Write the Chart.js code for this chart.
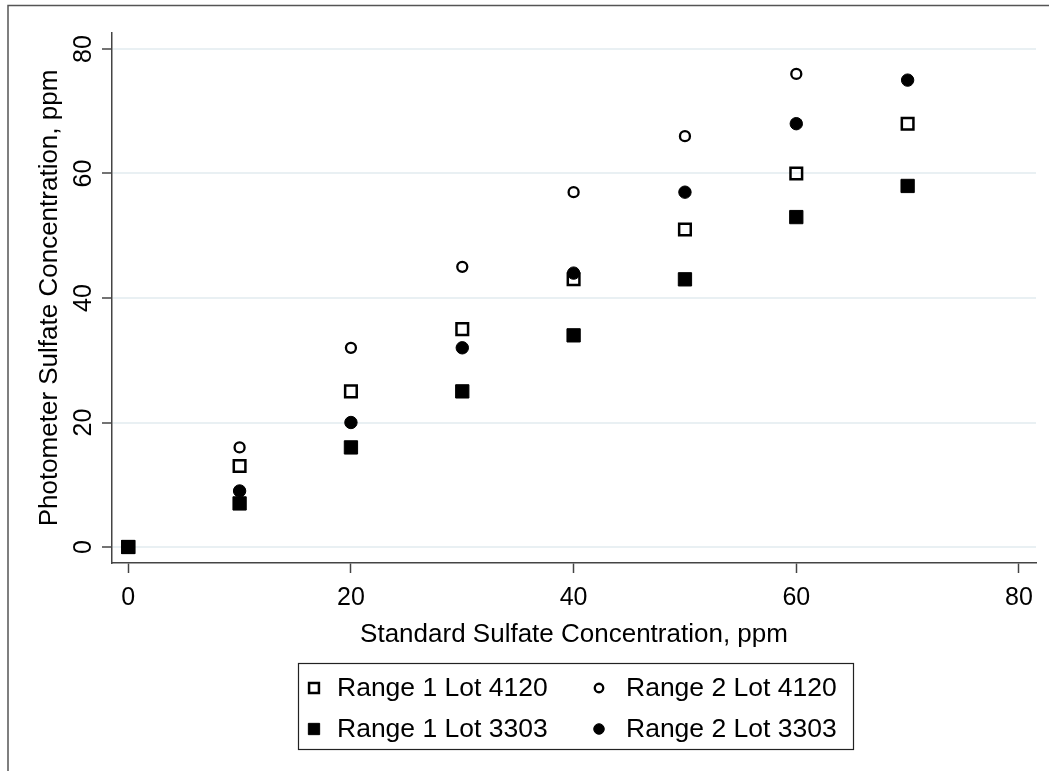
<!DOCTYPE html>
<html lang="en">

<head>
    <meta charset="UTF-8" />
    <title>Sulfate concentration — photometer vs standard</title>
    <script src="https://cdn.jsdelivr.net/npm/chart.js"></script>
    <style>
        body { margin: 0; background: #fff; }
        canvas { display: block; }
    </style>
</head>

<body>
    <canvas id="sulfateChart" width="1049" height="771"></canvas>

    <script>
        // Стандарт (ppm) по оси X
        const standardPpm = [0, 10, 20, 30, 40, 50, 60, 70];

        // Показания фотометра (ppm)
        const range1Lot4120 = [0, 13, 25, 35, 43, 51, 60, 68];
        const range2Lot4120 = [0, 16, 32, 45, 57, 66, 76, null];
        const range1Lot3303 = [0, 7, 16, 25, 34, 43, 53, 58];
        const range2Lot3303 = [0, 9, 20, 32, 44, 57, 68, 75];

        const seriesLabels = ['Range 1 Lot 4120', 'Range 2 Lot 4120', 'Range 1 Lot 3303', 'Range 2 Lot 3303'];
        const axisTicks = [0, 20, 40, 60, 80];

        const FONT = 'Liberation Sans, Arial, Helvetica, sans-serif';
        const AXIS_COLOR = '#444';

        function toPoints(values) {
            return standardPpm.map((x, i) => ({ x: x, y: values[i] }));
        }

        // рамка вокруг графика (верх и левый край)
        const framePlugin = {
            id: 'frame',
            beforeDraw(chart) {
                const ctx = chart.ctx;
                ctx.save();
                ctx.strokeStyle = '#555';
                ctx.lineWidth = 1.5;
                ctx.beginPath();
                ctx.moveTo(chart.width, 5.5);
                ctx.lineTo(8, 5.5);
                ctx.lineTo(8, chart.height);
                ctx.stroke();
                ctx.restore();
            }
        };

        // легенда в рамке, 2 колонки
        const boxLegendPlugin = {
            id: 'boxLegend',
            afterDraw(chart) {
                const ctx = chart.ctx;
                const box = { left: 298, top: 663, right: 853, bottom: 749 };
                const cols = [{ mark: 314, text: 337 }, { mark: 599, text: 626 }];
                const rows = [688, 729];

                ctx.save();
                ctx.strokeStyle = '#222';
                ctx.lineWidth = 1.2;
                ctx.strokeRect(box.left + 0.5, box.top + 0.5, box.right - box.left, box.bottom - box.top);

                ctx.font = '26.5px ' + FONT;
                ctx.textBaseline = 'middle';
                ctx.textAlign = 'left';

                chart.data.datasets.forEach((ds, i) => {
                    const col = cols[i % 2];
                    const y = rows[Math.floor(i / 2)];
                    ctx.fillStyle = ds.pointBackgroundColor;
                    ctx.strokeStyle = ds.pointBorderColor;
                    ctx.lineWidth = ds.pointBorderWidth;
                    Chart.helpers.drawPoint(ctx, {
                        pointStyle: ds.pointStyle,
                        radius: ds.pointRadius * 0.85,
                        borderWidth: ds.pointBorderWidth * 0.9,
                        rotation: 0
                    }, col.mark, y);
                    ctx.fillStyle = '#000';
                    ctx.fillText(ds.label, col.text, y + 1);
                });
                ctx.restore();
            }
        };

        const ctx = document.getElementById('sulfateChart').getContext('2d');

        const sulfateChart = new Chart(ctx, {
            type: 'scatter',
            data: {
                datasets: [
                    {
                        label: seriesLabels[0],
                        data: toPoints(range1Lot4120),
                        pointStyle: 'rect',
                        pointRadius: 8.2,
                        pointBorderWidth: 2.5,
                        pointBorderColor: '#000',
                        pointBackgroundColor: 'rgba(0,0,0,0)'
                    },
                    {
                        label: seriesLabels[1],
                        data: toPoints(range2Lot4120),
                        pointStyle: 'circle',
                        pointRadius: 5,
                        pointBorderWidth: 2.3,
                        pointBorderColor: '#000',
                        pointBackgroundColor: 'rgba(0,0,0,0)'
                    },
                    {
                        label: seriesLabels[2],
                        data: toPoints(range1Lot3303),
                        pointStyle: 'rect',
                        pointRadius: 9.4,
                        pointBorderWidth: 1,
                        pointBorderColor: '#000',
                        pointBackgroundColor: '#000'
                    },
                    {
                        label: seriesLabels[3],
                        data: toPoints(range2Lot3303),
                        pointStyle: 'circle',
                        pointRadius: 6.2,
                        pointBorderWidth: 1,
                        pointBorderColor: '#000',
                        pointBackgroundColor: '#000'
                    }
                ]
            },
            options: {
                responsive: false,
                animation: false,
                layout: { padding: { top: 33, right: 13, bottom: 121, left: 0 } },
                plugins: {
                    legend: { display: false },
                    tooltip: { enabled: false }
                },
                scales: {
                    x: {
                        type: 'linear',
                        min: -1.46,
                        max: 81.53,
                        afterBuildTicks: s => { s.ticks = axisTicks.map(v => ({ value: v })); },
                        afterFit: s => { s.height = 87; },
                        ticks: {
                            font: { family: FONT, size: 25 },
                            color: '#000',
                            padding: 10
                        },
                        grid: {
                            drawOnChartArea: false,
                            tickLength: 10,
                            tickColor: AXIS_COLOR,
                            tickWidth: 1.5
                        },
                        border: { color: AXIS_COLOR, width: 1.5 },
                        title: {
                            display: true,
                            text: 'Standard Sulfate Concentration, ppm',
                            font: { family: FONT, size: 26 },
                            color: '#000',
                            padding: { top: 0, bottom: 0 }
                        }
                    },
                    y: {
                        type: 'linear',
                        min: -2.57,
                        max: 82.57,
                        afterBuildTicks: s => { s.ticks = axisTicks.map(v => ({ value: v })); },
                        afterFit: s => { s.width = 112; },
                        ticks: {
                            font: { family: FONT, size: 25 },
                            color: '#000',
                            minRotation: 90,
                            maxRotation: 90,
                            crossAlign: 'center',
                            padding: 4
                        },
                        grid: {
                            color: '#e9f0f3',
                            lineWidth: 2,
                            tickLength: 10,
                            tickColor: AXIS_COLOR,
                            tickWidth: 1.5
                        },
                        border: { color: AXIS_COLOR, width: 1.5 },
                        title: {
                            display: true,
                            text: 'Photometer Sulfate Concentration, ppm',
                            font: { family: FONT, size: 26 },
                            color: '#000',
                            padding: { top: 34, bottom: 0 }
                        }
                    }
                }
            },
            plugins: [framePlugin, boxLegendPlugin]
        });
    </script>
</body>

</html>
